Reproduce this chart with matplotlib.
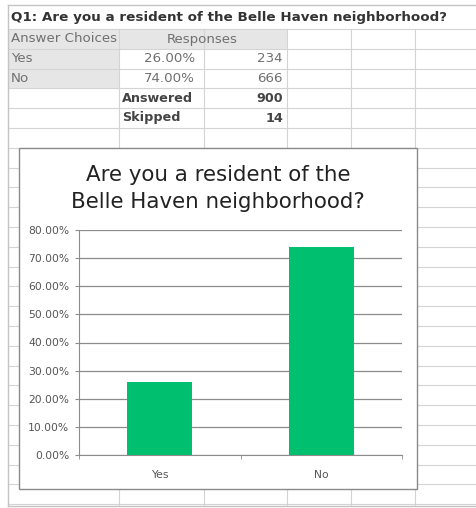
import matplotlib
matplotlib.use("Agg")
import matplotlib.pyplot as plt
from matplotlib.patches import Rectangle
from matplotlib.ticker import FuncFormatter

# ---- data ----
categories = ["Yes", "No"]
percentages = [26.00, 74.00]
counts = [234, 666]
answered = 900
skipped = 14
question = "Q1: Are you a resident of the Belle Haven neighborhood?"
chart_title = "Are you a resident of the\nBelle Haven neighborhood?"
y_ticks = [0, 10, 20, 30, 40, 50, 60, 70, 80]

FONT = ["DejaVu Sans"]
plt.rcParams["font.family"] = FONT

W, H = 476, 508
fig = plt.figure(figsize=(W / 100, H / 100), dpi=100)
fig.patch.set_facecolor("white")
renderer = fig.canvas.get_renderer()


def fit_size(s, target_w, weight="normal", base=10.0):
    t = fig.text(0, 0, s, fontsize=base, fontweight=weight)
    w = t.get_window_extent(renderer).width
    t.remove()
    return base * target_w / w


q_size = fit_size(question, 435, "bold")
body_size = fit_size("Answer Choices", 106)
bold_size = fit_size("Answered", 71, "bold")
title_size = fit_size("Belle Haven neighborhood?", 294)
tick_size = fit_size("80.00%", 41)

bg = fig.add_axes([0, 0, 1, 1])
bg.set_xlim(0, W)
bg.set_ylim(H, 0)
bg.axis("off")

grid_c = "#d4d4d4"
# spreadsheet fills
bg.add_patch(Rectangle((8, 29), 287 - 8, 20, facecolor="#e6e6e6", edgecolor="none", zorder=0))
bg.add_patch(Rectangle((8, 49), 119 - 8, 39.5, facecolor="#e6e6e6", edgecolor="none", zorder=0))

# spreadsheet grid
rows = []
y = 29
while y < 506:
    rows.append(y)
    y += 19.8
for yy in rows:
    bg.plot([8, W], [yy, yy], color=grid_c, lw=0.8, zorder=1)
for xx in [119, 204, 287, 351, 415]:
    bg.plot([xx, xx], [29, 506], color=grid_c, lw=0.8, zorder=1)
bg.plot([8, W], [5, 5], color="#c4c4c4", lw=1.0, zorder=1)
bg.plot([8, 8], [5, 506], color="#c4c4c4", lw=1.0, zorder=1)
bg.plot([8, W], [506, 506], color="#c4c4c4", lw=1.0, zorder=1)

# table text
bg.text(11, 18, question, fontsize=q_size, fontweight="bold", color="#333333",
        ha="left", va="center", zorder=2)
tc = "#707070"
bg.text(11, 39, "Answer Choices", fontsize=body_size, color=tc, ha="left", va="center", zorder=2)
bg.text(202, 39, "Responses", fontsize=body_size, color=tc, ha="center", va="center", zorder=2)
for i, (cat, p, c) in enumerate(zip(categories, percentages, counts)):
    yy = 59 + 19.8 * i
    bg.text(11, yy, cat, fontsize=body_size, color=tc, ha="left", va="center", zorder=2)
    bg.text(195, yy, f"{p:.2f}%", fontsize=body_size, color=tc, ha="right", va="center", zorder=2)
    bg.text(283, yy, f"{c}", fontsize=body_size, color=tc, ha="right", va="center", zorder=2)
dc = "#444444"
bg.text(122, 98.5, "Answered", fontsize=bold_size, fontweight="bold", color=dc, ha="left", va="center", zorder=2)
bg.text(283, 98.5, f"{answered}", fontsize=bold_size, fontweight="bold", color=dc, ha="right", va="center", zorder=2)
bg.text(122, 118, "Skipped", fontsize=bold_size, fontweight="bold", color=dc, ha="left", va="center", zorder=2)
bg.text(283, 118, f"{skipped}", fontsize=bold_size, fontweight="bold", color=dc, ha="right", va="center", zorder=2)

# chart box
bg.add_patch(Rectangle((19, 148), 417 - 19, 489 - 148, facecolor="white",
                       edgecolor="#8a8a8a", lw=1.0, zorder=3))
bg.text(218, 188.5, chart_title, fontsize=title_size, color="#222222", ha="center",
        va="center", linespacing=1.45, zorder=4)

# bar chart
ax = fig.add_axes([79 / W, (H - 455) / H, (402 - 79) / W, (455 - 230) / H], zorder=5)
ax.patch.set_alpha(0)
xs = list(range(len(categories)))
ax.bar(xs, percentages, width=0.4, color="#00BF6F", zorder=3)
ax.set_xlim(-0.5, len(categories) - 0.5)
ax.set_ylim(y_ticks[0], y_ticks[-1])
ax.set_yticks(y_ticks)
ax.yaxis.set_major_formatter(FuncFormatter(lambda v, _: f"{v:.2f}%"))
ax.yaxis.grid(True, color="#8c8c8c", lw=0.9, zorder=1)
ax.set_axisbelow(True)
for s in ["top", "right"]:
    ax.spines[s].set_visible(False)
ax.spines["left"].set_color("#8c8c8c")
ax.spines["bottom"].set_color("#8c8c8c")
ax.tick_params(axis="y", colors="#8c8c8c", labelcolor="#555555", labelsize=tick_size,
               length=3, pad=4)
ax.set_xticks(xs)
ax.set_xticklabels(categories)
ax.set_xticks([-0.5, 0.5, 1.5], minor=True)
ax.tick_params(axis="x", which="major", length=0, pad=11, labelsize=tick_size, labelcolor="#555555")
ax.tick_params(axis="x", which="minor", length=3, colors="#8c8c8c")

fig.savefig("out.png", dpi=100, facecolor="white")
